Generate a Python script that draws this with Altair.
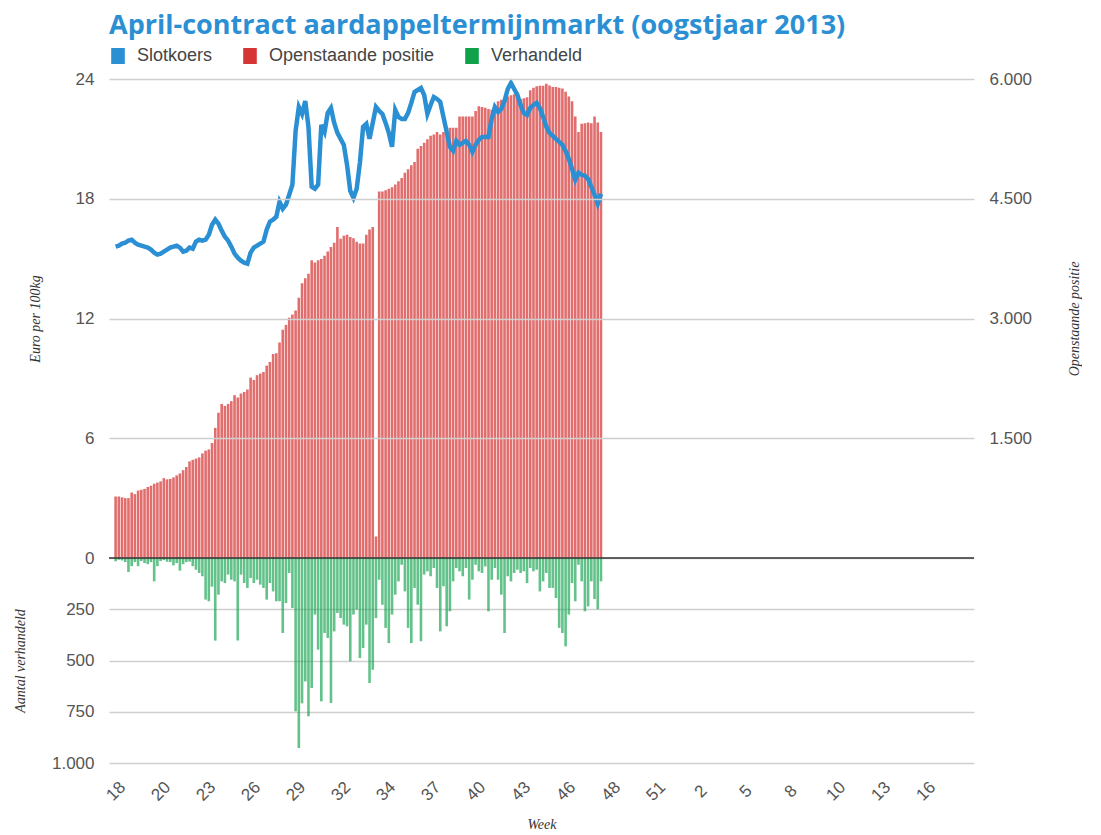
import altair as alt
import pandas as pd

weeks = ['18', '20', '23', '26', '29', '32', '34', '37', '40', '43', '46',
         '48', '51', '2', '5', '8', '10', '13', '16']

slotkoers = [
    15.6, 15.65, 15.75, 15.8, 15.9, 15.95, 15.8, 15.7, 15.65, 15.6,
    15.55, 15.45, 15.3, 15.2, 15.25, 15.35, 15.45, 15.55, 15.6, 15.65,
    15.55, 15.35, 15.4, 15.55, 15.5, 15.85, 15.95, 15.9, 15.95, 16.2,
    16.7, 16.95, 16.75, 16.4, 16.1, 15.9, 15.6, 15.25, 15.05, 14.9,
    14.8, 14.75, 15.3, 15.55, 15.65, 15.75, 15.85, 16.45, 16.85, 16.95,
    17.1, 17.85, 17.5, 17.7, 18.2, 18.7, 21.4, 22.6, 22.25, 22.9,
    21.6, 18.6, 18.5, 18.7, 21.7, 21.35, 22.3, 22.55, 21.8, 21.3,
    21.0, 20.7, 19.7, 18.4, 18.05, 18.5, 19.8, 21.6, 21.75, 21.0,
    21.8, 22.6, 22.4, 22.25, 21.8, 21.3, 20.6, 22.45, 22.1, 22.0,
    22.0, 22.3, 22.8, 23.35, 23.45, 23.55, 23.2, 22.25, 22.7, 23.1,
    23.0, 22.85, 22.1, 21.35, 20.6, 20.4, 20.9, 20.7, 20.8, 20.9,
    20.7, 20.35, 20.7, 20.95, 21.1, 21.1, 21.1, 22.0, 22.6, 22.35,
    22.5, 22.9, 23.5, 23.8, 23.5, 23.2, 22.7, 22.3, 22.2, 22.55,
    22.7, 22.8, 22.55, 22.1, 21.6, 21.3, 21.15, 21.0, 20.85, 20.7,
    20.4, 20.0, 19.5, 18.95, 19.3, 19.2, 19.15, 19.0, 18.6, 18.2,
    17.75, 18.25,
]

openstaand = [
    770, 770, 760, 750, 750, 820, 800, 845, 855, 865,
    890, 905, 930, 945, 960, 1000, 985, 990, 1010, 1035,
    1060, 1100, 1140, 1210, 1230, 1245, 1260, 1310, 1345, 1360,
    1440, 1630, 1820, 1930, 1905, 1930, 1965, 2040, 2010, 2060,
    2080, 2110, 2260, 2230, 2290, 2310, 2330, 2410, 2455, 2555,
    2565, 2700, 2860, 2920, 3010, 3050, 3100, 3260, 3440, 3505,
    3560, 3730, 3700, 3730, 3745, 3785, 3840, 3895, 3950, 4145,
    4000, 4035, 4050, 4020, 4005, 3960, 3940, 3940, 4050, 4115,
    4145, 270, 4590, 4590, 4605, 4625, 4645, 4680, 4720, 4760,
    4825, 4870, 4920, 4960, 5125, 5160, 5200, 5245, 5290, 5305,
    5335, 5305, 5335, 5365, 5390, 5390, 5390, 5530, 5530, 5530,
    5530, 5530, 5600, 5660, 5650, 5640, 5625, 5615, 5610, 5720,
    5740, 5760, 5780, 5795, 5810, 5830, 5750, 5760, 5770, 5860,
    5890, 5910, 5915, 5915, 5940, 5920, 5900, 5900, 5890, 5880,
    5840, 5780, 5720, 5530, 5335, 5440, 5445, 5455, 5445, 5530,
    5455, 5335,
]

verhandeld = [
    16, 8, 12, 20, 68, 40, 20, 40, 15, 25,
    30, 20, 114, 40, 15, 10, 18, 20, 36, 25,
    62, 30, 20, 18, 40, 57, 73, 89, 203, 211,
    140, 403, 179, 114, 122, 81, 106, 114, 403, 81,
    122, 146, 98, 122, 106, 130, 146, 203, 122, 163,
    211, 211, 366, 220, 73, 244, 748, 927, 709, 602,
    772, 634, 276, 447, 699, 366, 390, 707, 358, 268,
    293, 325, 333, 504, 276, 252, 488, 439, 325, 610,
    545, 293, 106, 228, 341, 415, 276, 179, 114, 33,
    163, 341, 415, 146, 228, 406, 81, 65, 89, 49,
    146, 358, 138, 333, 260, 114, 49, 65, 89, 49,
    203, 106, 33, 65, 73, 41, 260, 106, 49, 106,
    179, 366, 89, 114, 73, 57, 73, 65, 122, 49,
    65, 57, 163, 114, 73, 146, 146, 195, 341, 366,
    431, 276, 122, 211, 33, 114, 260, 236, 114, 200,
    250, 114,
]

series_names = ['Slotkoers', 'Openstaande positie', 'Verhandeld']
series_colors = ['#2b8fd3', '#d63535', '#10a24a']
baseline = [0]

days_per_label = 14
n = len(slotkoers)
df = pd.DataFrame({
    'dag': list(range(n)),
    'slotkoers': slotkoers,
    'open': openstaand,
    'verh': verhandeld,
})

x_end = days_per_label * len(weeks) - 0.5
xscale = alt.Scale(domain=[-0.5, x_end], nice=False, zero=False)
tick_vals = [i * days_per_label for i in range(len(weeks))]
label_expr = "[" + ",".join("'%s'" % w for w in weeks) + "][datum.value / %d]" % days_per_label
dot_fmt = "replace(format(datum.value, ','), ',', '.')"

LABEL_FONT = 'Liberation Sans'
TITLE_FONT = 'Liberation Serif'

fill_scale = alt.Scale(domain=series_names, range=series_colors)
legend = alt.Legend(
    title=None, orient='none', legendX=0, legendY=-32, direction='horizontal',
    symbolType='M-0.85,-1H0.85V1H-0.85Z', symbolSize=256, symbolOpacity=1,
    symbolStrokeWidth=0, labelFont=LABEL_FONT, labelFontSize=18, labelLimit=400,
    labelColor='#444', labelOffset=10, columnPadding=28,
)

axis_common = dict(
    labelFont=LABEL_FONT, labelFontSize=17, labelColor='#555',
    titleFont=TITLE_FONT, titleFontStyle='italic', titleFontWeight='normal',
    titleFontSize=14, titleColor='#333', ticks=False, domain=False,
)

base = alt.Chart(df)

bars = base.transform_calculate(serie="'Openstaande positie'").mark_bar(size=2.6, opacity=0.72).encode(
    x=alt.X('dag:Q', scale=xscale, axis=None),
    y=alt.Y('open:Q', scale=alt.Scale(domain=[0, 6000], nice=False),
            axis=alt.Axis(orient='right', values=[1500, 3000, 4500, 6000],
                          grid=False, title='Openstaande positie',
                          labelExpr=dot_fmt, labelPadding=15,
                          titlePadding=50, titleAngle=270, **axis_common)),
    fill=alt.Fill('serie:N', scale=fill_scale, legend=legend),
)

line = base.mark_line(color='#2b8fd3', strokeWidth=4.5).encode(
    x=alt.X('dag:Q', scale=xscale, axis=None),
    y=alt.Y('slotkoers:Q', scale=alt.Scale(domain=[0, 24], nice=False),
            axis=alt.Axis(values=[0, 6, 12, 18, 24], grid=True, gridColor='#cfcfcf',
                          gridWidth=1.5, zindex=1, title='Euro per 100kg',
                          labelPadding=15, titlePadding=33, **axis_common)),
)

top = alt.layer(bars, line).resolve_scale(y='independent').properties(width=865, height=479)

y_verh = alt.Scale(domain=[0, 1000], reverse=True, nice=False)

green = base.transform_calculate(serie="'Verhandeld'").mark_bar(size=2.6, opacity=0.65).encode(
    x=alt.X('dag:Q', scale=xscale,
            axis=alt.Axis(values=tick_vals, labelExpr=label_expr, labelAngle=-45,
                          labelAlign='center', labelBaseline='middle', labelPadding=28,
                          grid=False, title='Week', titlePadding=14, **axis_common)),
    y=alt.Y('verh:Q', scale=y_verh,
            axis=alt.Axis(values=[250, 500, 750, 1000], grid=True, gridColor='#cfcfcf',
                          gridWidth=1.5, title='Aantal verhandeld', labelExpr=dot_fmt,
                          labelPadding=15, titlePadding=24, **axis_common)),
    fill=alt.Fill('serie:N', scale=fill_scale, legend=legend),
)

zero_rule = alt.Chart(pd.DataFrame({'nul': baseline})).mark_rule(
    color='#333', strokeWidth=1.5).encode(y=alt.Y('nul:Q', scale=y_verh))

bottom = alt.layer(green, zero_rule).properties(width=865, height=205)

chart = alt.vconcat(top, bottom, spacing=0, bounds='flush').properties(
    title=alt.TitleParams(
        'April-contract aardappeltermijnmarkt (oogstjaar 2013)',
        anchor='start', frame='group', dx=0, font='Open Sans', fontSize=27,
        fontWeight='bold', color='#2b8fd3', offset=7,
    ),
    padding={'left': 5, 'top': 4, 'right': 0, 'bottom': 0},
).configure_view(stroke=None)

chart.save('out.html', embed_options={'renderer': 'svg', 'actions': False})
